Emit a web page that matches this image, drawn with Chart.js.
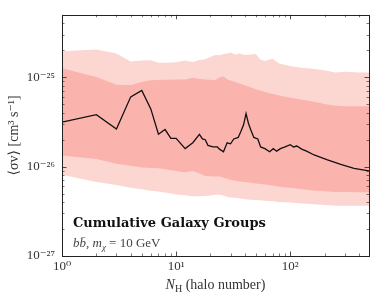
<!DOCTYPE html>
<html><head><meta charset="utf-8">
<script src="https://cdn.jsdelivr.net/npm/chart.js@4.4.1/dist/chart.umd.min.js"></script>
<style>html,body{margin:0;padding:0;background:#fff}#wrap{width:374px;height:298px}</style>
</head><body><div id="wrap"><canvas id="c" width="374" height="298"></canvas></div>
<script>
// ---- data ----
const bandN = [1,2,3,4,5,6,7,8,10,12,14,16,18,20,22,24,26,28,30,33,36,40,45,50,55,60,70,80,100,120,150,200,250,300,400,490];
const outerUpper = [1.96e-25,2.05e-25,1.85e-25,1.50e-25,1.54e-25,1.55e-25,1.45e-25,1.45e-25,1.47e-25,1.54e-25,1.48e-25,1.56e-25,1.59e-25,1.69e-25,1.78e-25,1.76e-25,1.82e-25,1.85e-25,1.89e-25,1.80e-25,1.85e-25,1.78e-25,1.80e-25,1.82e-25,1.57e-25,1.52e-25,1.61e-25,1.43e-25,1.34e-25,1.29e-25,1.25e-25,1.20e-25,1.13e-25,1.15e-25,1.13e-25,1.13e-25];
const innerUpper = [1.26e-25,1.01e-25,8.22e-26,8.18e-26,8.85e-26,9.24e-26,9.33e-26,9.40e-26,9.45e-26,9.47e-26,9.88e-26,9.64e-26,9.47e-26,9.40e-26,9.24e-26,1.00e-25,1.02e-25,9.52e-26,9.18e-26,8.85e-26,8.53e-26,8.12e-26,7.73e-26,7.36e-26,7.10e-26,6.84e-26,6.51e-26,6.27e-26,5.90e-26,5.69e-26,5.41e-26,5.03e-26,4.79e-26,4.73e-26,4.73e-26,4.73e-26];
const innerLower = [1.33e-26,1.22e-26,1.08e-26,1.02e-26,9.75e-27,9.66e-27,9.58e-27,9.35e-27,8.94e-27,8.68e-27,8.94e-27,8.37e-27,7.87e-27,7.82e-27,7.78e-27,7.75e-27,7.50e-27,7.31e-27,7.13e-27,6.97e-27,6.80e-27,6.71e-27,6.59e-27,6.47e-27,6.39e-27,6.31e-27,6.16e-27,5.96e-27,5.79e-27,5.66e-27,5.45e-27,5.31e-27,5.20e-27,5.19e-27,5.17e-27,5.16e-27];
const outerLower = [8.13e-27,6.71e-27,6.21e-27,5.82e-27,5.58e-27,5.38e-27,5.28e-27,5.12e-27,4.88e-27,4.78e-27,4.66e-27,4.66e-27,4.70e-27,4.75e-27,4.85e-27,4.85e-27,4.75e-27,4.58e-27,4.52e-27,4.48e-27,4.43e-27,4.32e-27,4.27e-27,4.24e-27,4.21e-27,4.16e-27,4.11e-27,4.03e-27,3.96e-27,3.90e-27,3.81e-27,3.72e-27,3.65e-27,3.65e-27,3.65e-27,3.65e-27];
const lineN = [1,2,3,4,5,6,7,8,9,10,12,14,16,17,18,19,21,23,24,26,28,30,32,35,37,39,41,43,45,48,52,55,60,66,71,76,82,90,100,107,114,126,139,162,212,277,362,490];
const lineSigmaV = [3.14e-26,3.82e-26,2.64e-26,6.04e-26,7.12e-26,4.43e-26,2.30e-26,2.60e-26,2.07e-26,2.07e-26,1.59e-26,1.85e-26,2.30e-26,2.04e-26,2.00e-26,1.73e-26,1.66e-26,1.66e-26,1.57e-26,1.47e-26,1.85e-26,1.80e-26,2.04e-26,2.12e-26,2.49e-26,2.94e-26,3.92e-26,3.06e-26,2.60e-26,2.12e-26,2.04e-26,1.66e-26,1.59e-26,1.47e-26,1.59e-26,1.49e-26,1.59e-26,1.66e-26,1.76e-26,1.66e-26,1.70e-26,1.57e-26,1.49e-26,1.35e-26,1.19e-26,1.06e-26,9.58e-27,8.97e-27];
const xTickValues = [1,10,100];
const xTickLabels = ['10⁰','10¹','10²'];
const yTickValues = [1e-27,1e-26,1e-25];
const yTickLabels = ['10⁻²⁷','10⁻²⁶','10⁻²⁵'];
const yTitle = '⟨σv⟩ [cm³ s⁻¹]';
const xTitleParts = ['N','H',' (halo number)'];
const annotTitle = 'Cumulative Galaxy Groups';
const annotParts = ['bb̄',', ','m','χ',' = 10 GeV'];

const SERIF = '"Liberation Serif", "DejaVu Serif", serif';
const pts = (xs, ys) => xs.map((x, i) => ({x: x, y: ys[i]}));

const decorPlugin = {
  id: 'decor',
  afterDraw(chart) {
    const ctx = chart.ctx, a = chart.chartArea;
    const xs = chart.scales.x, ys = chart.scales.y;
    ctx.save();
    ctx.strokeStyle = '#222';
    const xMin = xs.min, xMax = xs.max, yMin = ys.min, yMax = ys.max;
    for (let d = 1; d <= 1000; d *= 10) {
      for (let k = 1; k <= 9; k++) {
        const v = d * k;
        if (v < xMin || v > xMax) continue;
        const px = Math.round(xs.getPixelForValue(v)) + 0.5;
        const len = k === 1 ? 4.5 : 2.5;
        ctx.lineWidth = k === 1 ? 0.8 : 0.6;
        ctx.beginPath();
        ctx.moveTo(px, a.bottom); ctx.lineTo(px, a.bottom - len);
        ctx.moveTo(px, a.top); ctx.lineTo(px, a.top + len);
        ctx.stroke();
      }
    }
    for (let d = 1e-27; d <= 1e-24; d *= 10) {
      for (let k = 1; k <= 9; k++) {
        const v = d * k;
        if (v < yMin * 0.999 || v > yMax * 1.001) continue;
        const py = Math.round(ys.getPixelForValue(v)) + 0.5;
        const len = k === 1 ? 4.5 : 2.5;
        ctx.lineWidth = k === 1 ? 0.8 : 0.6;
        ctx.beginPath();
        ctx.moveTo(a.left, py); ctx.lineTo(a.left + len, py);
        ctx.moveTo(a.right, py); ctx.lineTo(a.right - len, py);
        ctx.stroke();
      }
    }
    ctx.lineWidth = 1;
    ctx.strokeStyle = '#222';
    ctx.strokeRect(Math.round(a.left) + 0.5, Math.round(a.top) + 0.5, Math.round(a.right - a.left), Math.round(a.bottom - a.top));

    // x axis title with subscript
    ctx.fillStyle = '#333';
    ctx.textBaseline = 'alphabetic';
    const fMain = 'italic 14px ' + SERIF, fSub = '10px ' + SERIF, fRest = '14px ' + SERIF;
    ctx.font = fMain; const w1 = ctx.measureText(xTitleParts[0]).width;
    ctx.font = fSub; const w2 = ctx.measureText(xTitleParts[1]).width;
    ctx.font = fRest; const w3 = ctx.measureText(xTitleParts[2]).width;
    let x0 = (a.left + a.right) / 2 - (w1 + w2 + w3) / 2;
    const by = 289;
    ctx.textAlign = 'left';
    ctx.font = fMain; ctx.fillText(xTitleParts[0], x0, by); x0 += w1;
    ctx.font = fSub; ctx.fillText(xTitleParts[1], x0, by + 3); x0 += w2;
    ctx.font = fRest; ctx.fillText(xTitleParts[2], x0, by);

    // annotation
    ctx.fillStyle = '#111';
    ctx.font = 'bold 13px "DejaVu Serif", serif';
    ctx.fillText(annotTitle, 73, 227);
    ctx.fillStyle = '#444';
    let ax = 73; const ay = 247;
    const fi = 'italic 13px ' + SERIF, fu = '13px ' + SERIF, fs = 'italic 9px ' + SERIF;
    const seq = [[annotParts[0], fi, 0], [annotParts[1], fu, 0], [annotParts[2], fi, 0], [annotParts[3], fs, 2.5], [annotParts[4], fu, 0]];
    for (const [t, f, dy] of seq) { ctx.font = f; ctx.fillText(t, ax, ay + dy); ax += ctx.measureText(t).width; }
    ctx.restore();
  }
};

new Chart(document.getElementById('c'), {
  type: 'line',
  data: {
    datasets: [
      {data: pts(bandN, outerUpper), order: 3, borderWidth: 0, borderColor: 'rgba(0,0,0,0)', pointRadius: 0, fill: false},
      {data: pts(bandN, outerLower), order: 3, borderWidth: 0, borderColor: 'rgba(0,0,0,0)', pointRadius: 0, fill: '-1', backgroundColor: '#fcd6d1'},
      {data: pts(bandN, innerUpper), order: 2, borderWidth: 0, borderColor: 'rgba(0,0,0,0)', pointRadius: 0, fill: false},
      {data: pts(bandN, innerLower), order: 2, borderWidth: 0, borderColor: 'rgba(0,0,0,0)', pointRadius: 0, fill: '-1', backgroundColor: '#fab4ad'},
      {data: pts(lineN, lineSigmaV), order: 0, borderWidth: 1.3, borderColor: '#111', pointRadius: 0, fill: false, tension: 0}
    ]
  },
  options: {
    responsive: false,
    devicePixelRatio: 1,
    animation: false,
    layout: {padding: {left: 0, right: 5, top: 4, bottom: 0}},
    plugins: {legend: {display: false}, tooltip: {enabled: false}},
    scales: {
      x: {
        type: 'logarithmic', min: 1, max: 490,
        grid: {display: false, drawTicks: false},
        border: {display: false},
        afterBuildTicks: s => { s.ticks = xTickValues.map(v => ({value: v})); },
        afterFit: s => { s.height = 42; },
        ticks: {
          autoSkip: false, maxRotation: 0, padding: 3, color: '#333',
          font: {family: SERIF, size: 13},
          callback: v => { const i = xTickValues.indexOf(v); return i >= 0 ? xTickLabels[i] : ''; }
        }
      },
      y: {
        type: 'logarithmic', min: 1e-27, max: 5e-25,
        grid: {display: false, drawTicks: false},
        border: {display: false},
        afterBuildTicks: s => { s.ticks = yTickValues.map(v => ({value: v})); },
        afterFit: s => { s.width = 62; },
        title: {display: true, text: yTitle, color: '#333', font: {family: SERIF, size: 14}, padding: {top: 6, bottom: 0}},
        ticks: {
          autoSkip: false, padding: 7, color: '#333',
          font: {family: SERIF, size: 13},
          callback: v => { const i = yTickValues.findIndex(t => Math.abs(t - v) / t < 1e-6); return i >= 0 ? yTickLabels[i] : ''; }
        }
      }
    }
  },
  plugins: [decorPlugin]
});
</script></body></html>
